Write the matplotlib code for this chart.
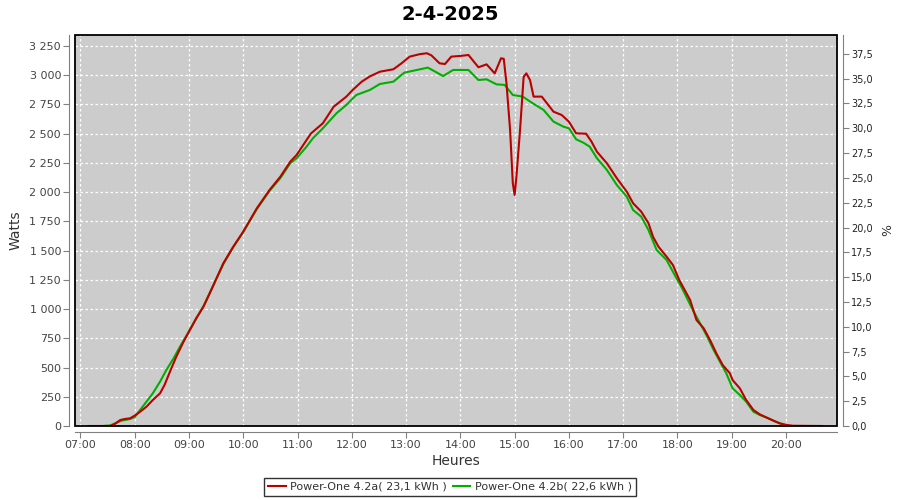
import numpy as np
import matplotlib
matplotlib.use("Agg")
import matplotlib.pyplot as plt
from matplotlib.patches import Rectangle
from matplotlib.ticker import FuncFormatter

# ---- data (time "HH:MM", watts) ----
red_times = ["07:09", "07:33", "07:38", "07:44", "07:49", "07:55", "08:01", "08:06", "08:13",
             "08:20", "08:28", "08:33", "08:39", "08:46", "08:54", "09:01", "09:08", "09:16",
             "09:23", "09:38", "09:49", "10:00", "10:15", "10:29", "10:41", "10:52", "10:59",
             "11:10", "11:15", "11:28", "11:40", "11:54", "12:01", "12:11", "12:20", "12:31",
             "12:46", "12:55", "13:04", "13:15", "13:23", "13:28", "13:37", "13:43", "13:50",
             "14:00", "14:09", "14:20", "14:29", "14:38", "14:45", "14:48", "14:51", "14:55",
             "14:58", "15:00", "15:02", "15:06", "15:10", "15:13", "15:17", "15:21", "15:30",
             "15:43", "15:52", "16:00", "16:08", "16:19", "16:25", "16:31", "16:42", "16:53",
             "17:04", "17:11", "17:20", "17:28", "17:33", "17:39", "17:48", "17:55", "18:02",
             "18:14", "18:21", "18:29", "18:36", "18:43", "18:50", "18:58", "19:01", "19:09",
             "19:16", "19:24", "19:31", "19:38", "19:46", "19:53", "20:00", "20:08", "20:40"]
red_watts = [0, 0, 17, 51, 60, 66, 94, 122, 165,
             222, 279, 351, 465, 593, 721, 821, 921, 1020,
             1135, 1392, 1534, 1662, 1862, 2018, 2132, 2261, 2318,
             2446, 2503, 2589, 2731, 2817, 2874, 2945, 2990, 3030,
             3051, 3102, 3159, 3180, 3188, 3170, 3102, 3096, 3159,
             3165, 3173, 3068, 3093, 3016, 3145, 3140, 2931, 2532,
             2076, 1976, 2132, 2532, 2987, 3016, 2959, 2817, 2817,
             2688, 2660, 2603, 2503, 2500, 2432, 2346, 2247, 2119,
             2004, 1905, 1833, 1734, 1619, 1534, 1448, 1377, 1249,
             1078, 907, 836, 736, 622, 522, 451, 393, 322,
             222, 137, 100, 74, 46, 23, 9, 2, 0]

green_times = ["07:25", "07:33", "07:45", "07:55", "08:00", "08:06", "08:13", "08:20", "08:28",
               "08:35", "08:43", "08:50", "08:57", "09:05", "09:16", "09:23", "09:38", "09:49",
               "10:00", "10:15", "10:29", "10:41", "10:52", "10:59", "11:10", "11:17", "11:28",
               "11:43", "11:54", "12:05", "12:20", "12:31", "12:46", "12:58", "13:12", "13:24",
               "13:30", "13:41", "13:52", "14:09", "14:20", "14:29", "14:40", "14:49", "14:58",
               "15:09", "15:20", "15:32", "15:43", "15:54", "16:00", "16:08", "16:16", "16:23",
               "16:31", "16:42", "16:53", "17:04", "17:11", "17:20", "17:28", "17:37", "17:48",
               "17:58", "18:05", "18:17", "18:25", "18:32", "18:40", "18:47", "18:54", "19:01",
               "19:09", "19:16", "19:24", "19:31", "19:38", "19:46", "19:53", "20:00", "20:05"]
green_watts = [0, 5, 45, 60, 77, 137, 208, 279, 379,
               479, 579, 678, 770, 878, 1025, 1140, 1385, 1530,
               1660, 1855, 2010, 2120, 2248, 2290, 2389, 2461, 2546,
               2674, 2746, 2831, 2874, 2925, 2945, 3022, 3045, 3065,
               3040, 2993, 3045, 3045, 2959, 2965, 2922, 2917, 2831,
               2817, 2760, 2703, 2603, 2560, 2546, 2452, 2423, 2389,
               2290, 2190, 2061, 1961, 1847, 1790, 1676, 1505, 1420,
               1277, 1180, 992, 878, 778, 650, 550, 451, 322,
               265, 208, 122, 94, 74, 46, 23, 8, 0]

series_labels = ["Power-One 4.2a( 23,1 kWh )", "Power-One 4.2b( 22,6 kWh )"]
hour_ticks = list(range(7, 21))
pct_ticks = [i * 2.5 for i in range(16)]
watt_ticks = list(range(0, 3251, 250))


def to_hours(t):
    h, m = t.split(":")
    return int(h) + int(m) / 60.0


red_x = [to_hours(t) for t in red_times]
green_x = [to_hours(t) for t in green_times]

plt.rcParams["font.family"] = "DejaVu Sans"

fig = plt.figure(figsize=(9, 5), dpi=100)
ax = fig.add_axes([75 / 900, 74 / 500, 762 / 900, 391 / 500])
ax.set_facecolor("#cccccc")

ax.plot(red_x, red_watts, color="#bb0000", lw=1.5, label=series_labels[0], zorder=3)
ax.plot(green_x, green_watts, color="#00b000", lw=1.5, label=series_labels[1], zorder=2)
ax.set_xlim(6.9, 20.94)
ax.set_ylim(0, 3344)

ax.set_xticks(hour_ticks)
ax.set_xticklabels([f"{h:02d}:00" for h in hour_ticks])
ax.set_yticks(watt_ticks)
ax.yaxis.set_major_formatter(FuncFormatter(lambda v, p: f"{int(v):,}".replace(",", " ")))

ax.grid(True, color="white", linestyle=(0, (2, 2)), lw=0.9)
ax.set_axisbelow(True)

for s in ["top", "right"]:
    ax.spines[s].set_visible(False)
for s in ["left", "bottom"]:
    ax.spines[s].set_position(("outward", 4))
    ax.spines[s].set_color("#808080")
ax.tick_params(colors="#808080", length=4, pad=2, labelsize=8, labelcolor="#444444")

ax.set_xlabel("Heures", fontsize=10, color="#333333", labelpad=3)
ax.set_ylabel("Watts", fontsize=10, color="#333333", labelpad=5)

ax2 = ax.twinx()
ax2.set_ylim(0, 39.4)
ax2.set_yticks(pct_ticks)
ax2.yaxis.set_major_formatter(FuncFormatter(lambda v, p: f"{v:.1f}".replace(".", ",")))
for s in ["top", "left", "bottom"]:
    ax2.spines[s].set_visible(False)
ax2.spines["right"].set_position(("outward", 4))
ax2.spines["right"].set_color("#808080")
ax2.tick_params(colors="#808080", length=4, pad=2, labelsize=7, labelcolor="#222222")
ax2.set_ylabel("%", fontsize=9, color="#333333", labelpad=6)

# black outline around the plot area
ax.add_patch(Rectangle((0, 0), 1, 1, transform=ax.transAxes, fill=False,
                       edgecolor="black", lw=1.3, clip_on=False, zorder=10))

fig.text(0.5, 0.99, "2-4-2025", ha="center", va="top", fontsize=14, fontweight="bold")

h1, l1 = ax.get_legend_handles_labels()
leg = fig.legend(h1, l1, loc="lower center", bbox_to_anchor=(0.5, 0.004), ncol=2,
                 fontsize=8, frameon=True, fancybox=False, edgecolor="black",
                 handlelength=1.6, handletextpad=0.4, columnspacing=0.5,
                 borderpad=0.35, borderaxespad=0.2)
leg.get_frame().set_linewidth(1.0)
for t in leg.get_texts():
    t.set_color("#333333")

fig.savefig("out.png", dpi=100)
